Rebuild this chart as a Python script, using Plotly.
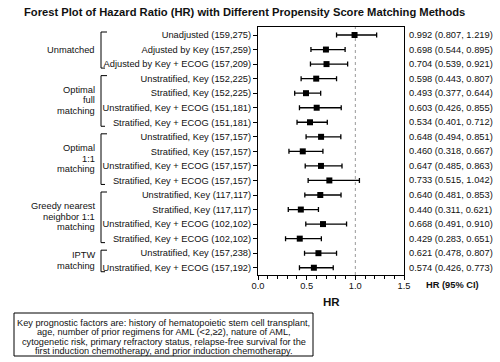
import plotly.graph_objects as go

labels = [
    "Unadjusted (159,275)",
    "Adjusted by Key (157,259)",
    "Adjusted by Key + ECOG (157,209)",
    "Unstratified, Key (152,225)",
    "Stratified, Key (152,225)",
    "Unstratified, Key + ECOG (151,181)",
    "Stratified, Key + ECOG (151,181)",
    "Unstratified, Key (157,157)",
    "Stratified, Key (157,157)",
    "Unstratified, Key + ECOG (157,157)",
    "Stratified, Key + ECOG (157,157)",
    "Unstratified, Key (117,117)",
    "Stratified, Key (117,117)",
    "Unstratified, Key + ECOG (102,102)",
    "Stratified, Key + ECOG (102,102)",
    "Unstratified, Key (157,238)",
    "Unstratified, Key + ECOG (157,192)",
]
hr = [0.992, 0.698, 0.704, 0.598, 0.493, 0.603, 0.534, 0.648, 0.460, 0.647,
      0.733, 0.640, 0.440, 0.668, 0.429, 0.621, 0.574]
lo = [0.807, 0.544, 0.539, 0.443, 0.377, 0.426, 0.401, 0.494, 0.318, 0.485,
      0.515, 0.481, 0.311, 0.491, 0.283, 0.478, 0.426]
hi = [1.219, 0.895, 0.921, 0.807, 0.644, 0.855, 0.712, 0.851, 0.667, 0.863,
      1.042, 0.853, 0.621, 0.910, 0.651, 0.807, 0.773]

# groups: (lines of label, first row index, last row index)
groups = [
    (["Unmatched"], 0, 2),
    (["Optimal", "full", "matching"], 3, 6),
    (["Optimal", "1:1", "matching"], 7, 10),
    (["Greedy nearest", "neighbor 1:1", "matching"], 11, 14),
    (["IPTW", "matching"], 15, 16),
]

title = "Forest Plot of Hazard Ratio (HR) with Different Propensity Score Matching Methods"
note_lines = [
    "Key prognostic factors are: history of hematopoietic stem cell transplant,",
    "age, number of prior regimens for AML (<2,≥2), nature of AML,",
    "cytogenetic risk, primary refractory status, relapse-free survival for the",
    "first induction chemotherapy, and prior induction chemotherapy.",
]

FONT = "Liberation Sans, Arial, sans-serif"
FS = 9.3
W, H = 500, 362
L, R, T, B = 258, 404, 27, 275  # plot area pixel bounds

ypos = list(range(len(labels)))
plus = [h - m for h, m in zip(hi, hr)]
minus = [m - l for m, l in zip(hr, lo)]

fig = go.Figure()
fig.add_trace(go.Scatter(
    x=hr, y=ypos, mode="markers",
    marker=dict(symbol="square", size=6, color="#000000"),
    error_x=dict(type="data", symmetric=False, array=plus, arrayminus=minus,
                 color="#000000", thickness=1.3, width=2.5),
    showlegend=False, hoverinfo="skip",
))

annotations = []
shapes = []

# reference line at HR = 1
shapes.append(dict(type="line", xref="x", yref="paper", x0=1, x1=1, y0=0, y1=1,
                   line=dict(color="#999999", width=1, dash="dot"), layer="below"))

# right-hand HR (95% CI) text
for i, (h, l, u) in enumerate(zip(hr, lo, hi)):
    annotations.append(dict(
        xref="paper", yref="y", x=1, y=i, xshift=3, xanchor="left", yanchor="middle",
        text=f"{h:.3f} ({l:.3f}, {u:.3f})", showarrow=False,
        font=dict(family=FONT, size=FS, color="#111111")))

annotations.append(dict(
    xref="paper", yref="paper", x=1, y=0, xshift=20, yshift=-(285 - B),
    xanchor="left", yanchor="middle", text="<b>HR (95% CI)</b>", showarrow=False,
    font=dict(family=FONT, size=9.3, color="#111111")))

# x axis title
annotations.append(dict(
    xref="paper", yref="paper", x=0.5, y=0, yshift=-(302 - B),
    xanchor="center", yanchor="middle", text="<b>HR</b>", showarrow=False,
    font=dict(family=FONT, size=11.5, color="#111111")))

# title
annotations.append(dict(
    xref="paper", yref="paper", x=0, y=1, xshift=244.5 - L, yshift=T - 12,
    xanchor="center", yanchor="middle", text=f"<b>{title}</b>", showarrow=False,
    font=dict(family=FONT, size=11.2, color="#111111")))

# group labels and brackets
row_px = (B - T) / 17.05
line_px = 10.5
bx = 101 - L
for lines, a, b in groups:
    center = (a + b) / 2
    n = len(lines)
    for k, txt in enumerate(lines):
        off = (k - (n - 1) / 2) * line_px
        annotations.append(dict(
            xref="paper", yref="y", x=0, y=center, xshift=97 - L, yshift=-off,
            xanchor="right", yanchor="middle", text=txt, showarrow=False,
            font=dict(family=FONT, size=FS, color="#111111")))
    top = a - 3 / row_px
    bot = b + 4 / row_px
    for (x0, y0, x1, y1) in [(bx, top, bx, bot), (bx, top, bx + 6, top), (bx, bot, bx + 4, bot)]:
        shapes.append(dict(type="line", xref="paper", yref="y", xsizemode="pixel", xanchor=0,
                           x0=x0, x1=x1, y0=y0, y1=y1,
                           line=dict(color="#000000", width=1)))

# footnote box
shapes.append(dict(type="rect", xref="paper", yref="paper", xsizemode="pixel", ysizemode="pixel",
                   xanchor=0, yanchor=0, x0=14 - L, x1=313 - L, y0=-(313 - B), y1=-(356 - B),
                   line=dict(color="#000000", width=1)))
for k, txt in enumerate(note_lines):
    py = 323 + k * 9.3
    annotations.append(dict(
        xref="paper", yref="paper", x=0, y=0, xshift=163.5 - L, yshift=-(py - B),
        xanchor="center", yanchor="middle", text=txt, showarrow=False,
        font=dict(family=FONT, size=9.2, color="#111111")))

fig.update_layout(
    width=W, height=H,
    margin=dict(l=L, r=W - R, t=T, b=H - B, pad=0),
    paper_bgcolor="white", plot_bgcolor="white",
    font=dict(family=FONT, size=FS, color="#111111"),
    shapes=shapes, annotations=annotations,
    xaxis=dict(range=[0, 1.5], tickvals=[0, 0.5, 1.0, 1.5], ticktext=["0.0", "0.5", "1.0", "1.5"],
               ticks="outside", ticklen=4, tickwidth=1, tickcolor="#000000",
               ticklabelstandoff=-2,
               minor=dict(dtick=0.1, ticks="outside", ticklen=2.5, tickcolor="#000000", showgrid=False),
               showline=True, linecolor="#000000", linewidth=1, mirror=True,
               showgrid=False, zeroline=False, fixedrange=True,
               tickfont=dict(family=FONT, size=FS, color="#111111")),
    yaxis=dict(range=[16.5, -0.55], tickvals=ypos, ticktext=labels,
               ticks="outside", ticklen=4, tickwidth=1, tickcolor="#000000",
               showline=True, linecolor="#000000", linewidth=1, mirror=True,
               showgrid=False, zeroline=False, fixedrange=True,
               tickfont=dict(family=FONT, size=FS, color="#111111")),
)

fig.write_html("out.html", config={"displayModeBar": False},
               post_script="document.body.style.margin='0';document.body.style.overflow='hidden';")
